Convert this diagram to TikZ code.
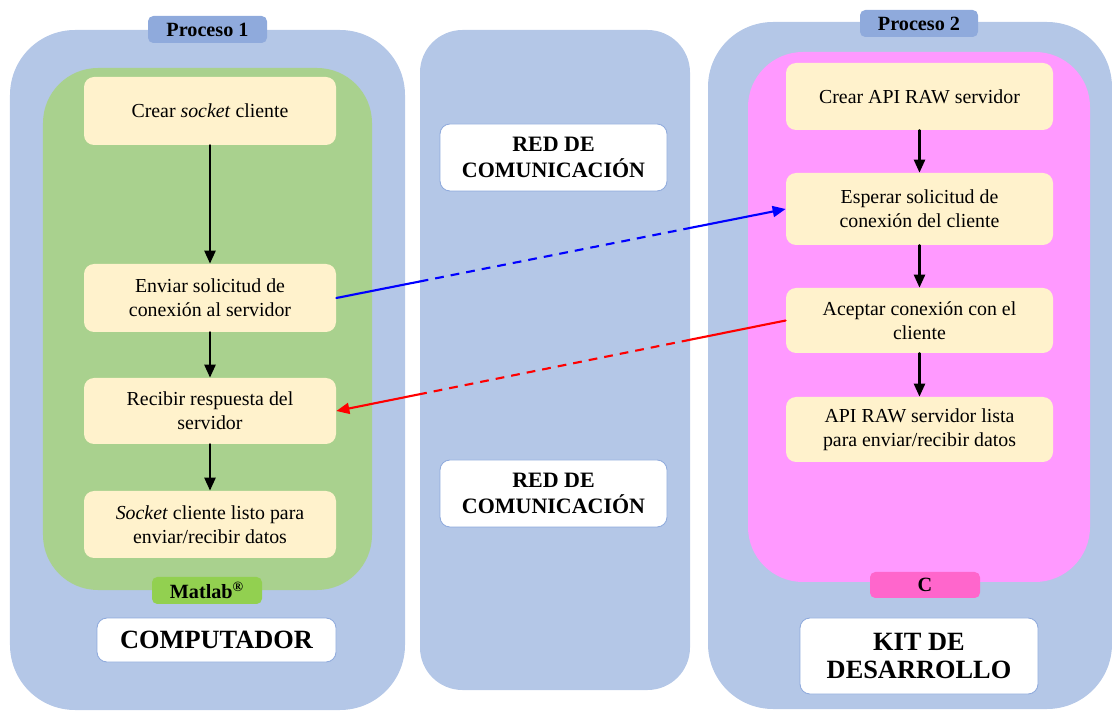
\documentclass[tikz,border=0pt]{standalone}
\usepackage{fontspec}
\setmainfont{Liberation Serif}
\usetikzlibrary{arrows.meta}
\definecolor{panelblue}{HTML}{B4C7E7}
\definecolor{tabblue}{HTML}{8FAADC}
\definecolor{matgreen}{HTML}{A9D18E}
\definecolor{tabgreen}{HTML}{92D050}
\definecolor{boxyellow}{HTML}{FFF2CC}
\definecolor{cpink}{HTML}{FF99FF}
\definecolor{tabpink}{HTML}{FF66CC}
\begin{document}
\begin{tikzpicture}[line join=round, line cap=round,
	panel/.style={fill=panelblue, rounded corners=1.3cm, inner sep=0pt},
	lang/.style={rounded corners=1.1cm, inner sep=0pt},
	tab/.style={rounded corners=3pt, minimum width=2.3cm, minimum height=0.54cm, inner sep=0pt, font=\fontsize{11.5}{13}\selectfont\bfseries},
	stage/.style={fill=boxyellow, rounded corners=0.2cm, align=center, inner sep=0pt, font=\fontsize{11.3}{13.6}\selectfont},
	title/.style={fill=white, draw=tabblue, line width=0.5pt, rounded corners=0.2cm, align=center, inner sep=0pt, font=\bfseries},
	flow/.style={-{Triangle[length=2.6mm, width=2.2mm]}, line width=1.4pt},
	msg/.style={line width=1.2pt},
	tip/.style={-{Triangle[length=2.6mm, width=2.2mm]}}]
	\useasboundingbox (0,0) rectangle (22.24,14.22);
	% paneles de fondo
	\node[panel, minimum width=7.9cm, minimum height=13.6cm] (pc) at (4.15,6.82) {};
	\node[panel, rounded corners=0.85cm, minimum width=5.4cm, minimum height=13.2cm] (net) at (11.1,7.02) {};
	\node[panel, minimum width=8.08cm, minimum height=13.74cm] (kit) at (18.2,6.91) {};
	\node[lang, fill=matgreen, minimum width=6.58cm, minimum height=10.44cm] (mat) at (4.15,7.64) {};
	\node[lang, fill=cpink, minimum width=6.84cm, minimum height=10.6cm] (cc) at (18.38,7.88) {};
	% etiquetas
	\node[tab, fill=tabblue, minimum width=2.38cm] (p1) at (4.15,13.63) {Proceso 1};
	\node[tab, fill=tabblue, minimum width=2.36cm] (p2) at (18.38,13.75) {Proceso 2};
	\node[tab, fill=tabgreen, minimum width=2.2cm] (lmat) at (4.14,2.41) {Matlab\textsuperscript{\textregistered}};
	\node[tab, fill=tabpink, minimum width=2.2cm, minimum height=0.52cm] (lc) at (18.5,2.52) {C};
	\node[title, minimum width=4.78cm, minimum height=0.88cm, font=\fontsize{15}{17}\selectfont\bfseries] (tpc) at (4.33,1.42) {COMPUTADOR};
	\node[title, minimum width=4.76cm, minimum height=1.52cm, font=\fontsize{15}{16.5}\selectfont\bfseries] (tkit) at (18.38,1.10) {KIT DE\\DESARROLLO};
	\node[title, minimum width=4.54cm, minimum height=1.34cm, font=\fontsize{12.5}{14.7}\selectfont\bfseries] (red1) at (11.07,11.07) {RED DE\\COMUNICACIÓN};
	\node[title, minimum width=4.54cm, minimum height=1.34cm, font=\fontsize{12.5}{14.7}\selectfont\bfseries] (red2) at (11.07,4.35) {RED DE\\COMUNICACIÓN};
	% cliente
	\node[stage, minimum width=5.04cm, minimum height=1.36cm] (crear) at (4.2,12.0) {Crear \textit{socket} cliente};
	\node[stage, minimum width=5.04cm, minimum height=1.36cm] (enviar) at (4.2,8.26) {Enviar solicitud de\\conexión al servidor};
	\node[stage, minimum width=5.04cm, minimum height=1.32cm] (recibir) at (4.2,6.0) {Recibir respuesta del\\servidor};
	\node[stage, minimum width=5.04cm, minimum height=1.34cm] (listo) at (4.2,3.73) {\textit{Socket} cliente listo para\\enviar/recibir datos};
	% servidor
	\node[stage, minimum width=5.34cm, minimum height=1.34cm] (api) at (18.39,12.29) {Crear API RAW servidor};
	\node[stage, minimum width=5.34cm, minimum height=1.44cm] (esperar) at (18.39,10.04) {Esperar solicitud de\\conexión del cliente};
	\node[stage, minimum width=5.34cm, minimum height=1.30cm] (aceptar) at (18.39,7.81) {Aceptar conexión con el\\cliente};
	\node[stage, minimum width=5.34cm, minimum height=1.30cm] (lista) at (18.39,5.63) {API RAW servidor lista\\para enviar/recibir datos};
	\draw[flow] (crear) -- (enviar);
	\draw[flow] (enviar) -- (recibir);
	\draw[flow] (recibir) -- (listo);
	\draw[flow] (api) -- (esperar);
	\draw[flow] (esperar) -- (aceptar);
	\draw[flow] (aceptar) -- (lista);
	% mensajes por la red
	\coordinate (b1) at (intersection of enviar.east--esperar.west and net.north west--net.south west);
	\coordinate (b2) at (intersection of enviar.east--esperar.west and net.north east--net.south east);
	\coordinate (r1) at (intersection of aceptar.west--recibir.east and net.north east--net.south east);
	\coordinate (r2) at (intersection of aceptar.west--recibir.east and net.north west--net.south west);
	\draw[msg, blue] (enviar.east) -- (b1);
	\draw[msg, blue, dash pattern=on 5pt off 4pt, line cap=butt] (b1) -- (b2);
	\draw[msg, blue, tip] (b2) -- (esperar.west);
	\draw[msg, red] (aceptar.west) -- (r1);
	\draw[msg, red, dash pattern=on 5pt off 4pt, line cap=butt] (r1) -- (r2);
	\draw[msg, red, tip] (r2) -- (recibir.east);
\end{tikzpicture}
\end{document}
